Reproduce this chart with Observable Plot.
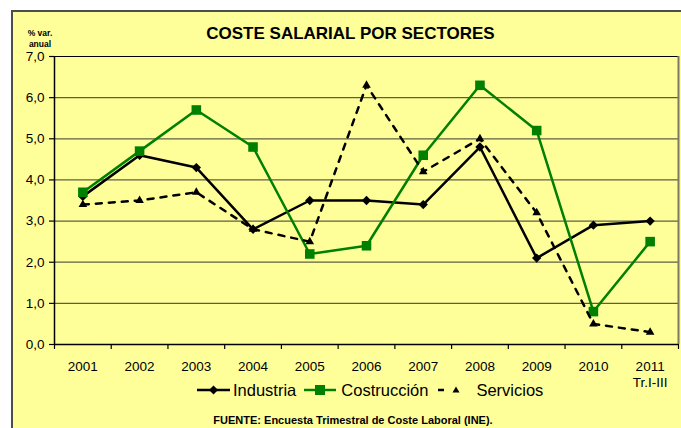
<!DOCTYPE html>
<html>
<head>
<meta charset="utf-8">
<script src="https://cdn.jsdelivr.net/npm/d3@7"></script>
<script src="https://cdn.jsdelivr.net/npm/@observablehq/plot@0.6"></script>
<style>
  html, body { margin: 0; padding: 0; background: #ffffff; }
  body { width: 681px; height: 428px; overflow: hidden; position: relative; font-family: "Liberation Sans", Arial, sans-serif; }
  #frame { position: absolute; left: 11px; top: 10px; width: 700px; height: 440px; background: #FFFF99; border: 2px solid #4d4d4d; box-sizing: content-box; }
  #title { position: absolute; left: 0; top: 12px; width: 675px; text-align: center; font-weight: bold; font-size: 17px; line-height: 20px; color: #000; }
  #unit { position: absolute; left: 8px; top: 16px; width: 38px; text-align: center; font-weight: bold; font-size: 8.5px; line-height: 11px; color: #000; }
  #chart { position: absolute; left: 0; top: 34px; }
  #legend { position: absolute; left: 184px; top: 369px; height: 18px; display: flex; align-items: center; font-size: 16.5px; line-height: 18px; color: #000; white-space: nowrap; }
  #legend svg { display: block; }
  #caption { position: absolute; left: 0; top: 402px; width: 680px; text-align: center; font-weight: bold; font-size: 11px; line-height: 13px; color: #000; }
</style>
</head>
<body>
<div id="frame">
  <div id="title">COSTE SALARIAL POR SECTORES</div>
  <div id="unit">% var.<br>anual</div>
  <div id="chart"></div>
  <div id="legend"></div>
  <div id="caption">FUENTE: Encuesta Trimestral de Coste Laboral (INE).</div>
</div>
<script>
const years = [2001, 2002, 2003, 2004, 2005, 2006, 2007, 2008, 2009, 2010, 2011];
const xLabels = ["2001", "2002", "2003", "2004", "2005", "2006", "2007", "2008", "2009", "2010", "2011\nTr.I-III"];
const industria    = [3.6, 4.6, 4.3, 2.8, 3.5, 3.5, 3.4, 4.8, 2.1, 2.9, 3.0];
const construccion = [3.7, 4.7, 5.7, 4.8, 2.2, 2.4, 4.6, 6.3, 5.2, 0.8, 2.5];
const servicios    = [3.4, 3.5, 3.7, 2.8, 2.5, 6.3, 4.2, 5.0, 3.2, 0.5, 0.3];
const yTicks = [0, 1, 2, 3, 4, 5, 6, 7];
const seriesNames = ["Industria", "Costrucción", "Servicios"];

const boundaries = years.map(y => y - 0.5).concat([years[years.length - 1] + 0.5]);
const X = (d, i) => years[i];
const Y = d => d;

const green = "#008000";

const plot = Plot.plot({
  width: 668,
  height: 340,
  marginLeft: 41,
  marginRight: 3,
  marginTop: 10,
  marginBottom: 42,
  style: { background: "transparent", fontFamily: "'Liberation Sans', Arial, sans-serif", fontSize: "13px", color: "black", overflow: "visible" },
  x: { type: "linear", domain: [boundaries[0], boundaries[boundaries.length - 1]], label: null },
  y: { domain: [yTicks[0], yTicks[yTicks.length - 1]], label: null },
  marks: [
    Plot.gridY(yTicks, { stroke: "#5e5e47", strokeOpacity: 1, strokeWidth: 1.2 }),
    Plot.ruleY([yTicks[yTicks.length - 1]], { stroke: "black", strokeWidth: 1.2 }),
    Plot.ruleX([boundaries[boundaries.length - 1]], { stroke: "#7a7a66", strokeWidth: 2 }),
    Plot.axisY(yTicks, { tickSize: 5, tickPadding: 5, fontSize: 13.5, tickFormat: d => d.toFixed(1).replace(".", ","), label: null, stroke: "black", strokeWidth: 1.2 }),
    Plot.ruleX([boundaries[0]], { stroke: "black", strokeWidth: 1.5 }),
    Plot.ruleY([yTicks[0]], { stroke: "black", strokeWidth: 1.5 }),
    Plot.axisX(boundaries, { tickSize: 5, tickFormat: () => "", label: null, stroke: "black", strokeWidth: 1.2 }),
    Plot.axisX(years, { tickSize: 0, tickPadding: 15, fontSize: 13.5, lineHeight: 1.2, tickFormat: d => xLabels[years.indexOf(d)], label: null }),

    Plot.line(industria, { x: X, y: Y, stroke: "black", strokeWidth: 2.5 }),
    Plot.dot(industria, { x: X, y: Y, symbol: "diamond2", r: 4.2, fill: "black", stroke: "none" }),

    Plot.line(construccion, { x: X, y: Y, stroke: green, strokeWidth: 2.5 }),
    Plot.dot(construccion, { x: X, y: Y, symbol: "square", r: 5.4, fill: green, stroke: "none" }),

    Plot.line(servicios, { x: X, y: Y, stroke: "black", strokeWidth: 2.5, strokeDasharray: "6,7" }),
    Plot.dot(servicios, { x: X, y: Y, symbol: "triangle", r: 3.2, fill: "black", stroke: "none" })
  ]
});
document.getElementById("chart").appendChild(plot);

// Legend
const legend = d3.select("#legend");
function item(name, swatchW, draw, gapBefore, gapText) {
  const wrap = legend.append("div").style("display", "flex").style("align-items", "center").style("margin-left", gapBefore + "px");
  const svg = wrap.append("svg").attr("width", swatchW).attr("height", 14);
  draw(svg);
  wrap.append("span").style("margin-left", gapText + "px").text(name);
}
item(seriesNames[0], 33, svg => {
  svg.append("line").attr("x1", 0).attr("x2", 33).attr("y1", 7).attr("y2", 7).attr("stroke", "black").attr("stroke-width", 2.5);
  svg.append("path").attr("d", "M16.5,2.5L21,7L16.5,11.5L12,7Z").attr("fill", "black");
}, 0, 3);
item(seriesNames[1], 32, svg => {
  svg.append("line").attr("x1", 0).attr("x2", 32).attr("y1", 7).attr("y2", 7).attr("stroke", green).attr("stroke-width", 2.5);
  svg.append("rect").attr("x", 11).attr("y", 2).attr("width", 10).attr("height", 10).attr("fill", green);
}, 8, 5);
item(seriesNames[2], 30, svg => {
  svg.append("line").attr("x1", 0).attr("x2", 6).attr("y1", 7).attr("y2", 7).attr("stroke", "black").attr("stroke-width", 2.5);
  svg.append("path").attr("d", "M18,3.5L21.5,9.5L14.5,9.5Z").attr("fill", "black");
}, 10, 8);
</script>
</body>
</html>
